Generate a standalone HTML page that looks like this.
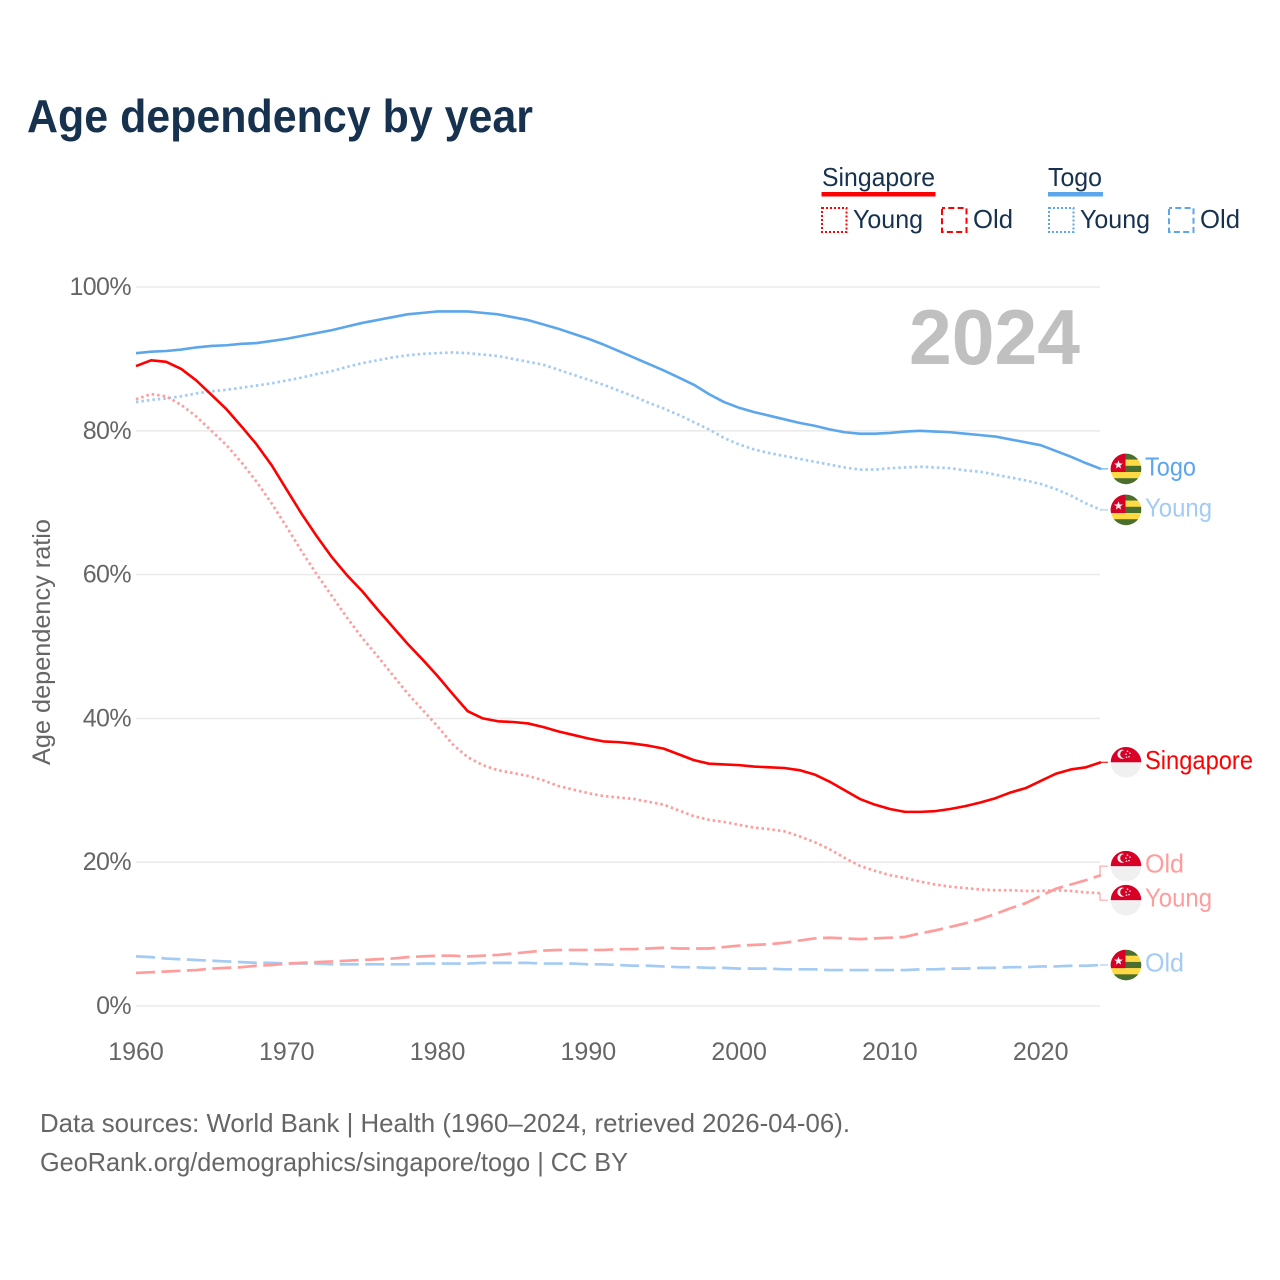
<!DOCTYPE html>
<html lang="en">
<head>
<meta charset="utf-8">
<title>Age dependency by year</title>
<style>
html,body{margin:0;padding:0;background:#fff}
svg{display:block}
text{font-family:"Liberation Sans",sans-serif}
</style>
</head>
<body>
<svg id="chart" xmlns="http://www.w3.org/2000/svg" width="1280" height="1280" viewBox="0 0 1280 1280">
  <rect width="1280" height="1280" fill="#fff"/>
  <text x="27" y="132" font-size="46" font-weight="700" fill="#17324f" textLength="506" lengthAdjust="spacingAndGlyphs">Age dependency by year</text>

  <g font-size="26" fill="#17324f">
    <text x="822" y="186" textLength="113" lengthAdjust="spacingAndGlyphs">Singapore</text>
    <rect x="821.5" y="192" width="114" height="4.5" fill="#ff0000"/>
    <rect x="822" y="208" width="24.5" height="24" fill="none" stroke="#ff0000" stroke-width="2" stroke-dasharray="2 2"/>
    <text x="853" y="228" textLength="70" lengthAdjust="spacingAndGlyphs">Young</text>
    <rect x="942" y="208" width="24.5" height="24" fill="none" stroke="#ff0000" stroke-width="2" stroke-dasharray="6 3.3" stroke-dashoffset="3"/>
    <text x="973" y="228" textLength="40" lengthAdjust="spacingAndGlyphs">Old</text>
    <text x="1048" y="186" textLength="54" lengthAdjust="spacingAndGlyphs">Togo</text>
    <rect x="1048" y="192" width="55" height="4.5" fill="#5ca6ec"/>
    <rect x="1049" y="208" width="24.5" height="24" fill="none" stroke="#5ca6ec" stroke-width="2" stroke-dasharray="2 2"/>
    <text x="1080" y="228" textLength="70" lengthAdjust="spacingAndGlyphs">Young</text>
    <rect x="1169" y="208" width="24.5" height="24" fill="none" stroke="#5ca6ec" stroke-width="2" stroke-dasharray="6 3.3" stroke-dashoffset="3"/>
    <text x="1200" y="228" textLength="40" lengthAdjust="spacingAndGlyphs">Old</text>
  </g>

  <text transform="translate(50,642) rotate(-90)" text-anchor="middle" font-size="25" fill="#666" textLength="246" lengthAdjust="spacingAndGlyphs">Age dependency ratio</text>
  <g id="grid"></g>
  <g id="yticks"></g>
  <g id="xticks"></g>
  <text x="909" y="364" font-size="78" font-weight="700" fill="#c0c0c0" textLength="171" lengthAdjust="spacingAndGlyphs">2024</text>
  <g id="series"></g>
  <g id="endlabels"></g>

  <text x="40" y="1132" font-size="26" fill="#666" textLength="810" lengthAdjust="spacingAndGlyphs">Data sources: World Bank | Health (1960–2024, retrieved 2026-04-06).</text>
  <text x="40" y="1171" font-size="26" fill="#666" textLength="588" lengthAdjust="spacingAndGlyphs">GeoRank.org/demographics/singapore/togo | CC BY</text>
</svg>
<script>
const years = [
  1960,1961,1962,1963,1964,1965,1966,1967,1968,1969,
  1970,1971,1972,1973,1974,1975,1976,1977,1978,1979,
  1980,1981,1982,1983,1984,1985,1986,1987,1988,1989,
  1990,1991,1992,1993,1994,1995,1996,1997,1998,1999,
  2000,2001,2002,2003,2004,2005,2006,2007,2008,2009,
  2010,2011,2012,2013,2014,2015,2016,2017,2018,2019,
  2020,2021,2022,2023,2024];
const togoTotal = [
  90.8,91.0,91.1,91.3,91.6,91.8,91.9,92.1,92.2,92.5,
  92.8,93.2,93.6,94.0,94.5,95.0,95.4,95.8,96.2,96.4,
  96.6,96.6,96.6,96.4,96.2,95.8,95.4,94.8,94.2,93.5,
  92.8,92.0,91.1,90.2,89.3,88.4,87.4,86.4,85.1,84.0,
  83.2,82.6,82.1,81.6,81.1,80.7,80.2,79.8,79.6,79.6,
  79.7,79.9,80.0,79.9,79.8,79.6,79.4,79.2,78.8,78.4,
  78.0,77.2,76.4,75.5,74.7];
const togoYoung = [
  84.0,84.3,84.5,84.8,85.2,85.5,85.7,86.0,86.3,86.6,
  87.0,87.4,87.9,88.3,88.9,89.4,89.8,90.2,90.5,90.7,
  90.8,90.9,90.8,90.6,90.4,90.0,89.6,89.2,88.5,87.8,
  87.1,86.4,85.6,84.8,83.9,83.1,82.2,81.2,80.2,79.0,
  78.1,77.4,76.9,76.5,76.1,75.7,75.3,74.9,74.6,74.6,
  74.8,74.9,75.0,74.9,74.8,74.5,74.3,73.9,73.5,73.1,
  72.6,71.9,71.0,69.9,69.0];
const togoOld = [
  6.9,6.8,6.6,6.5,6.4,6.3,6.2,6.1,6.0,6.0,
  5.9,5.9,5.9,5.8,5.8,5.8,5.8,5.8,5.8,5.9,
  5.9,5.9,5.9,6.0,6.0,6.0,6.0,5.9,5.9,5.9,
  5.8,5.8,5.7,5.6,5.6,5.5,5.4,5.4,5.3,5.3,
  5.2,5.2,5.2,5.1,5.1,5.1,5.0,5.0,5.0,5.0,
  5.0,5.0,5.1,5.1,5.2,5.2,5.3,5.3,5.4,5.4,
  5.5,5.5,5.6,5.6,5.7];
const singaporeTotal = [
  89.0,89.8,89.6,88.6,87.0,85.0,83.0,80.6,78.1,75.2,
  71.8,68.4,65.3,62.4,59.9,57.7,55.2,52.8,50.4,48.2,
  45.9,43.4,41.0,40.0,39.6,39.5,39.3,38.8,38.2,37.7,
  37.2,36.8,36.7,36.5,36.2,35.8,35.0,34.2,33.7,33.6,
  33.5,33.3,33.2,33.1,32.8,32.2,31.2,30.0,28.8,28.0,
  27.4,27.0,27.0,27.1,27.4,27.8,28.3,28.9,29.7,30.3,
  31.3,32.3,32.9,33.2,33.9];
const singaporeYoung = [
  84.4,85.1,84.8,83.6,82.0,80.0,78.0,75.6,72.9,69.9,
  66.6,63.2,60.0,57.0,54.0,51.2,48.7,46.1,43.5,41.2,
  38.9,36.4,34.6,33.5,32.8,32.4,32.0,31.4,30.6,30.1,
  29.6,29.2,29.0,28.8,28.4,28.0,27.2,26.4,25.9,25.6,
  25.2,24.8,24.6,24.3,23.6,22.8,21.8,20.6,19.5,18.8,
  18.2,17.8,17.3,16.9,16.6,16.4,16.2,16.1,16.1,16.0,
  16.0,16.1,16.0,15.8,15.7];
const singaporeOld = [
  4.6,4.7,4.8,4.9,5.0,5.2,5.3,5.4,5.6,5.7,
  5.9,6.0,6.1,6.2,6.3,6.4,6.5,6.6,6.8,6.9,
  7.0,7.0,6.9,7.0,7.1,7.3,7.5,7.7,7.8,7.8,
  7.8,7.8,7.9,7.9,8.0,8.1,8.0,8.0,8.0,8.2,
  8.4,8.5,8.6,8.8,9.1,9.4,9.5,9.4,9.3,9.4,
  9.5,9.6,10.1,10.5,11.0,11.5,12.1,12.8,13.6,14.3,
  15.3,16.3,16.9,17.5,18.2];
const yTickValues = [0,20,40,60,80,100];
const xTickValues = [1960,1970,1980,1990,2000,2010,2020];

const NS = 'http://www.w3.org/2000/svg';
const xAxis = v => 136 + (v - 1960) * (1101 - 136) / (2024 - 1960);
const yAxis = v => 1006 - v * (1006 - 287) / 100;

function make(tag, parent, attrs) {
  const el = document.createElementNS(NS, tag);
  for (const k in attrs) el.setAttribute(k, attrs[k]);
  parent.appendChild(el);
  return el;
}
const gridG = document.getElementById('grid');
const yG = document.getElementById('yticks');
const xG = document.getElementById('xticks');
const seriesG = document.getElementById('series');
const labelsG = document.getElementById('endlabels');

yTickValues.forEach(v => {
  const line = make('line', gridG, {x1:136, x2:1100, y1:yAxis(v), y2:yAxis(v), stroke:'#ebebeb', 'stroke-width':1.6});
  
  
  const t = make('text', yG, {x:131, y:yAxis(v)+8, 'text-anchor':'end', 'font-size':25, 'letter-spacing':-0.6, fill:'#666'});
  
  
  t.textContent = v + '%';
});
xTickValues.forEach(v => {
  const t = make('text', xG, {x:xAxis(v), y:1060, 'text-anchor':'middle', 'font-size':25, fill:'#666'});
  
  
  t.textContent = v;
});

const DOT = '2.5 3';
const DASH = '19 6.5';
const lines = [
  {id:'togo-old', values:togoOld, color:'#a3cbf3', dash:DASH, label:'Old', country:'togo'},
  {id:'singapore-old', values:singaporeOld, color:'#ff9c9c', dash:DASH, label:'Old', country:'singapore'},
  {id:'togo-young', values:togoYoung, color:'#a3cbf3', dash:DOT, label:'Young', country:'togo'},
  {id:'singapore-young', values:singaporeYoung, color:'#ff9c9c', dash:DOT, label:'Young', country:'singapore'},
  {id:'togo-total', values:togoTotal, color:'#5ca6ec', dash:null, label:'Togo', country:'togo'},
  {id:'singapore-total', values:singaporeTotal, color:'#ff0000', dash:null, label:'Singapore', country:'singapore'}
];
const labelWidths = {Old:39, Young:67, Togo:51, Singapore:108};

lines.forEach(s => {
  const d = s.values.map((v,i) => (i ? 'L' : 'M') + xAxis(years[i]).toFixed(2) + ' ' + yAxis(v).toFixed(2)).join('');
  const p = make('path', seriesG, {d:d, fill:'none', stroke:s.color, 'stroke-width':s.dash ? 2.7 : 2.6, 'stroke-linejoin':'round'});
  if (s.dash) p.setAttribute('stroke-dasharray', s.dash);
  
  
});

// Place end labels from last values, pushing apart any that would collide.
const GAP = 34;
const placed = lines.map(s => ({s:s, end:yAxis(s.values[s.values.length-1])}));
placed.sort((a,b) => a.end - b.end);
placed.forEach(p => { p.y = p.end; });
for (let i = 1; i < placed.length; i++) {
  if (placed[i].y - placed[i-1].y < GAP) {
    const mid = (placed[i].y + placed[i-1].y) / 2 - 1;
    placed[i-1].y = mid - GAP/2;
    placed[i].y = mid + GAP/2;
  }
}

function drawFlag(country, cy, id) {
  const g = make('g', labelsG, {'clip-path':'url(#clip-' + id + ')'});
  
  
  const cp = make('clipPath', g, {id:'clip-' + id});
  make('circle', cp, {cx:1126, cy:cy, r:15.3});
  const L = 1110.5, T = cy - 15.5;
  if (country === 'singapore') {
    make('rect', g, {x:L, y:T, width:31, height:31, fill:'#f0f0f0'});
    make('rect', g, {x:L, y:T, width:31, height:15.5, fill:'#d80027'});
    make('circle', g, {cx:1122, cy:cy-8, r:4.6, fill:'#f0f0f0'});
    make('circle', g, {cx:1124.2, cy:cy-8, r:4, fill:'#d80027'});
    [[1127.5,-11],[1130,-9],[1126,-8],[1129,-5.5],[1126.5,-5]].forEach(o => {
      make('circle', g, {cx:o[0], cy:cy+o[1], r:0.8, fill:'#f0f0f0'});
    });
  } else {
    const stripe = 31/5;
    ['#496e2d','#ffda44','#496e2d','#ffda44','#496e2d'].forEach((c,i) => {
      make('rect', g, {x:L, y:T+i*stripe, width:31, height:stripe+0.2, fill:c});
    });
    make('rect', g, {x:L, y:T, width:15, height:18.6, fill:'#d80027'});
    const cx = 1118.5, sy = T + 11.5, pts = [];
    for (let i = 0; i < 10; i++) {
      const r = i % 2 ? 1.9 : 4.6, a = -Math.PI/2 + i*Math.PI/5;
      pts.push((cx + r*Math.cos(a)).toFixed(2) + ',' + (sy + r*Math.sin(a)).toFixed(2));
    }
    make('polygon', g, {points:pts.join(' '), fill:'#f0f0f0'});
  }
}

placed.forEach(p => {
  const s = p.s;
  const leader = make('path', labelsG, {d:'M1100 ' + p.end.toFixed(2) + 'V' + p.y.toFixed(2) + 'H1108', fill:'none', stroke:s.color, 'stroke-width':1.1});
  
  
  drawFlag(s.country, p.y, s.id);
  const t = make('text', labelsG, {x:1145, y:p.y+6.5, 'font-size':26, fill:s.color, textLength:labelWidths[s.label], lengthAdjust:'spacingAndGlyphs'});
  
  
  t.textContent = s.label;
});
</script>
</body>
</html>
